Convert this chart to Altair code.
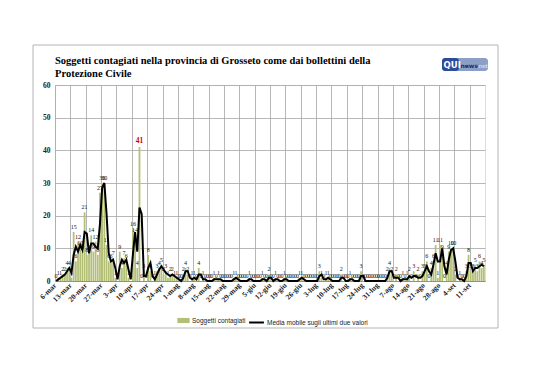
import altair as alt
import pandas as pd

# Weekly tick labels (6 March 2020 = day 0)
tick_labels = ["6-mar", "13-mar", "20-mar", "27-mar", "3-apr", "10-apr", "17-apr",
               "24-apr", "1-mag", "8-mag", "15-mag", "22-mag", "29-mag", "5-giu",
               "12-giu", "19-giu", "26-giu", "3-lug", "10-lug", "17-lug", "24-lug",
               "31-lug", "7-ago", "14-ago", "21-ago", "28-ago", "4-set", "11-set"]

# Daily new cases, by month
marzo = [0, 1, 1, 2, 2, 4, 4, 1, 15, 6, 12, 10, 9, 21, 8, 9, 14, 9, 12, 8,
         27, 30, 30, 11, 6, 6]                                   # 6-31 mar
aprile = [7, 1, 0, 9, 4, 7, 6, 1, 0, 16, 14, 4, 41, 0, 3, 0, 8, 3, 0, 1,
          3, 4, 5, 2, 3, 1, 2, 2, 1, 1]                          # 1-30 apr
maggio = [0, 0, 2, 4, 2, 0, 1, 1, 0, 4, 0, 1, 0, 0, 0, 0, 1, 0, 1, 0,
          0, 0, 0, 0, 0, 1, 1, 0, 0, 0, 0]                       # 1-31 mag
giugno = [0, 1, 0, 0, 0, 0, 0, 1, 0, 0, 2, 0, 0, 1, 0, 0, 0, 1, 0, 0,
          0, 0, 0, 0, 1, 1, 0, 0, 0, 0]                          # 1-30 giu
luglio = [0, 0, 0, 3, 1, 0, 1, 1, 0, 0, 0, 0, 0, 2, 0, 0, 0, 1, 0, 0,
          0, 0, 3, 0, 0, 0, 0, 0, 0, 0, 0]                       # 1-31 lug
agosto = [0, 0, 0, 2, 4, 2, 0, 2, 0, 0, 1, 0, 1, 2, 0, 3, 0, 2, 0, 3,
          3, 6, 0, 4, 6, 11, 1, 11, 9, 0, 4]                     # 1-31 ago
settembre = [9, 10, 10, 2, 0, 1, 0, 0, 3, 8, 3, 3, 5, 3, 6, 4, 5]  # 1-17 set

values = marzo + aprile + maggio + giugno + luglio + agosto + settembre
df = pd.DataFrame({"d": list(range(len(values))), "v": values})

BAR = "#b3bf76"
SERIE1 = "Soggetti contagiati"
SERIE2 = "Media mobile sugli ultimi due valori"

label_array = "[" + ",".join("'" + t + "'" for t in tick_labels) + "]"

def xenc(field):
    return alt.X(field, type="quantitative",
                 scale=alt.Scale(domain=[0, 196], nice=False, zero=False),
                 axis=alt.Axis(values=list(range(0, 190, 7)), title=None,
                               labelExpr=label_array + "[round(datum.value/7)]",
                               labelAngle=315, labelAlign="right", labelBaseline="middle",
                               labelFont="Liberation Serif", labelFontWeight="bold",
                               labelFontSize=7.5, labelColor="#222", labelPadding=3,
                               ticks=False, domain=True, domainColor="#909090",
                               grid=True, gridColor="#a4a4a4", gridWidth=0.8,
                               labelOverlap=False))

def yenc(field):
    return alt.Y(field, type="quantitative",
                 scale=alt.Scale(domain=[0, 60], nice=False),
                 axis=alt.Axis(values=[0, 10, 20, 30, 40, 50, 60], title=None,
                               labelFont="Liberation Serif", labelFontWeight="bold",
                               labelFontSize=7.5, labelColor="#222", labelPadding=5,
                               ticks=False, domain=False,
                               grid=True, gridColor="#a4a4a4", gridWidth=0.8))

base = alt.Chart(df)

bars = base.transform_calculate(
    x0="datum.d + 0.1", x1="datum.d + 0.9", s="'" + SERIE1 + "'"
).mark_rect().encode(
    x=xenc("x0"),
    x2="x1:Q",
    y=yenc("v"),
    y2=alt.datum(0),
    fill=alt.Fill("s:N", scale=alt.Scale(domain=[SERIE1], range=[BAR]),
                  legend=alt.Legend(orient="none", legendX=122, legendY=229, title=None,
                                    symbolType="M-1,-0.42H1V0.42H-1Z", symbolSize=150,
                                    symbolStrokeWidth=0, labelFont="Liberation Sans",
                                    labelFontSize=6.5, labelColor="#222", labelOffset=2)),
)

line = base.transform_window(
    ma="mean(v)", frame=[-1, 0], sort=[alt.SortField("d")]
).transform_calculate(
    xc="datum.d + 0.5", m="'" + SERIE2 + "'"
).mark_line(strokeWidth=2, interpolate="linear").encode(
    x=xenc("xc"),
    y=yenc("ma"),
    stroke=alt.Stroke("m:N", scale=alt.Scale(domain=[SERIE2], range=["black"]),
                      legend=alt.Legend(orient="none", legendX=193, legendY=229, title=None,
                                        symbolType="stroke", symbolSize=220,
                                        symbolStrokeWidth=2, labelFont="Liberation Sans",
                                        labelFontSize=6.5, labelColor="#222", labelOffset=2)),
)

labels = base.transform_calculate(xc="datum.d + 0.5").transform_filter(
    "datum.v < 40"
).mark_text(baseline="bottom", dy=-2, fontSize=6, font="Liberation Serif",
            color="#111").encode(
    x=xenc("xc"), y=yenc("v"), text="v:Q")

peak = base.transform_calculate(xc="datum.d + 0.5").transform_filter(
    "datum.v >= 40"
).mark_text(baseline="bottom", dy=-2, fontSize=7.5, font="Liberation Serif",
            fontWeight="bold", color="#d40000").encode(
    x=xenc("xc"), y=yenc("v"), text="v:Q")

one = pd.DataFrame({"k": [0]})
frame = alt.Chart(one).mark_rect(fill="transparent", stroke="#b4b4b4",
                                 strokeWidth=1).encode(
    x=alt.value(-22), x2=alt.value(443), y=alt.value(-40), y2=alt.value(243))

logo_bg = alt.Chart(one).mark_rect(fill="#8c9fc6", cornerRadius=3).encode(
    x=alt.value(387), x2=alt.value(433), y=alt.value(-27), y2=alt.value(-14))
logo_dark = alt.Chart(one).mark_rect(fill="#2b4b9b", cornerRadius=3).encode(
    x=alt.value(387), x2=alt.value(404), y=alt.value(-27), y2=alt.value(-14))
logo_qui = alt.Chart(one).mark_text(text="QUI", font="DejaVu Sans", fontWeight="bold",
                                    fontSize=8.5, color="white", align="left",
                                    baseline="middle").encode(
    x=alt.value(388.5), y=alt.value(-20.5))
logo_news = alt.Chart(one).mark_text(text="news", font="DejaVu Sans", fontWeight="bold",
                                     fontSize=6, color="#1a2d63", align="left",
                                     baseline="middle").encode(
    x=alt.value(405.5), y=alt.value(-19.5))
logo_net = alt.Chart(one).mark_text(text=".net", font="DejaVu Sans",
                                    fontSize=5.5, color="#eef2fa", align="left",
                                    baseline="middle").encode(
    x=alt.value(422), y=alt.value(-19.5))

chart = alt.layer(
    frame, bars, line, labels, peak, logo_bg, logo_dark, logo_qui, logo_news, logo_net
).resolve_scale(fill="independent", stroke="independent").properties(
    width=430, height=196,
    autosize=alt.AutoSizeParams(type="none"),
    padding={"left": 47, "top": 77, "right": 30, "bottom": 60},
    title=alt.TitleParams(
        ["Soggetti contagiati nella provincia di Grosseto come dai bollettini della",
         "Protezione Civile"],
        anchor="start", font="Liberation Serif", fontSize=10.5, fontWeight="bold",
        color="#000", offset=7, dy=42, lineHeight=13, frame="group"),
).configure_view(stroke=None).configure(background="white")

chart.save("out.html", embed_options={"renderer": "svg", "actions": False})
